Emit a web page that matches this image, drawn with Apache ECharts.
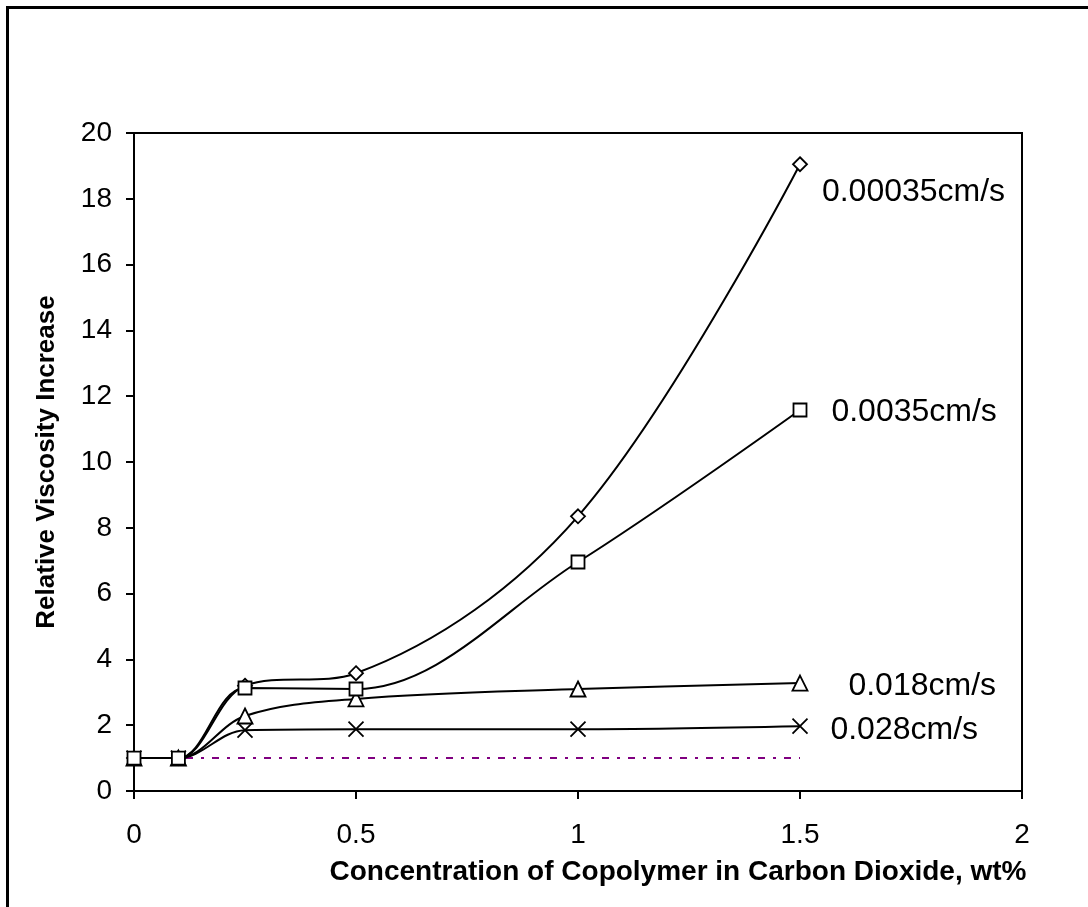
<!DOCTYPE html>
<html>
<head>
<meta charset="utf-8">
<script src="https://cdn.jsdelivr.net/npm/echarts@6/dist/echarts.min.js"></script>
<style>
  html, body { margin: 0; padding: 0; background: #fff; }
  #chart { width: 1088px; height: 907px; }
</style>
</head>
<body>
<div id="chart"></div>
<script>
// Copolymer concentration in CO2 (wt%)
const concentration = [0, 0.1, 0.25, 0.5, 1, 1.5];

// Relative viscosity increase at each superficial velocity
const seriesNames = ['0.00035cm/s', '0.0035cm/s', '0.018cm/s', '0.028cm/s'];
const visc00035 = [1, 1, 3.2, 3.58, 8.35, 19.05];
const visc0035 = [1, 1, 3.13, 3.1, 6.96, 11.58];
const visc018 = [1, 1, 2.28, 2.8, 3.1, 3.28];
const visc028 = [1, 1, 1.85, 1.88, 1.88, 1.97];

// Reference level (no viscosity increase)
const baselineX = [0, 1.5];
const baselineY = [1, 1];

const xTicks = [0, 0.5, 1, 1.5, 2];
const yTicks = [0, 2, 4, 6, 8, 10, 12, 14, 16, 18, 20];

const FONT = '"Liberation Sans", Arial, sans-serif';

function pairs(xs, ys) {
  return xs.map((x, i) => [x, ys[i]]);
}

const markerStyle = { color: '#fff', borderColor: '#000', borderWidth: 1.8 };

function viscositySeries(name, values, symbol, symbolSize, labelOffset) {
  const last = values.length - 1;
  return {
    name: name,
    type: 'line',
    data: pairs(concentration, values),
    smooth: 0.35,
    symbol: symbol,
    symbolSize: symbolSize,
    showAllSymbol: true,
    lineStyle: { color: '#000', width: 2 },
    itemStyle: markerStyle,
    label: {
      show: true,
      position: 'right',
      distance: 5,
      offset: labelOffset,
      fontFamily: FONT,
      fontSize: 32,
      color: '#000',
      formatter: (p) => (p.dataIndex === last ? name : '')
    },
    emphasis: { disabled: true },
    z: 3
  };
}

const chart = echarts.init(document.getElementById('chart'), null, { renderer: 'canvas' });

chart.setOption({
  backgroundColor: '#fff',
  animation: false,
  graphic: [{
    type: 'rect',
    shape: { x: 7.5, y: 7.5, width: 1200, height: 1000 },
    style: { fill: 'none', stroke: '#000', lineWidth: 3 },
    silent: true,
    z: 0
  }],
  grid: {
    left: 134, top: 133, right: 66, bottom: 116,
    show: true, borderColor: '#000', borderWidth: 2, backgroundColor: 'transparent'
  },
  xAxis: {
    type: 'value',
    min: xTicks[0],
    max: xTicks[xTicks.length - 1],
    interval: xTicks[1] - xTicks[0],
    name: 'Concentration of Copolymer in Carbon Dioxide, wt%',
    nameLocation: 'middle',
    nameGap: 67,
    nameTextStyle: {
      fontFamily: FONT, fontSize: 28, fontWeight: 'bold', color: '#000',
      padding: [0, 0, 0, 200]
    },
    axisLine: { show: true, lineStyle: { color: '#000', width: 2 } },
    axisTick: { show: true, length: 8, inside: false, lineStyle: { color: '#000', width: 2 } },
    axisLabel: { fontFamily: FONT, fontSize: 28, color: '#000', margin: 30 },
    splitLine: { show: false }
  },
  yAxis: {
    type: 'value',
    min: yTicks[0],
    max: yTicks[yTicks.length - 1],
    interval: yTicks[1] - yTicks[0],
    name: 'Relative Viscosity Increase',
    nameLocation: 'middle',
    nameGap: 74,
    nameTextStyle: { fontFamily: FONT, fontSize: 26, fontWeight: 'bold', color: '#000' },
    axisLine: { show: true, lineStyle: { color: '#000', width: 2 } },
    axisTick: { show: true, length: 8, inside: false, lineStyle: { color: '#000', width: 2 } },
    axisLabel: { fontFamily: FONT, fontSize: 28, color: '#000', margin: 22 },
    splitLine: { show: false }
  },
  series: [
    {
      name: 'baseline',
      type: 'line',
      data: pairs(baselineX, baselineY),
      symbol: 'none',
      lineStyle: { color: '#800080', width: 2, type: [7, 8, 3, 8] },
      emphasis: { disabled: true },
      z: 2
    },
    viscositySeries(seriesNames[3], visc028, 'path://M0,0L10,10M0,10L10,0', 15, [17, 4]),
    viscositySeries(seriesNames[2], visc018, 'triangle', 15, [35, 3]),
    viscositySeries(seriesNames[0], visc00035, 'diamond', 14, [9, 28]),
    viscositySeries(seriesNames[1], visc0035, 'rect', 13, [19, 2])
  ]
});
</script>
</body>
</html>
